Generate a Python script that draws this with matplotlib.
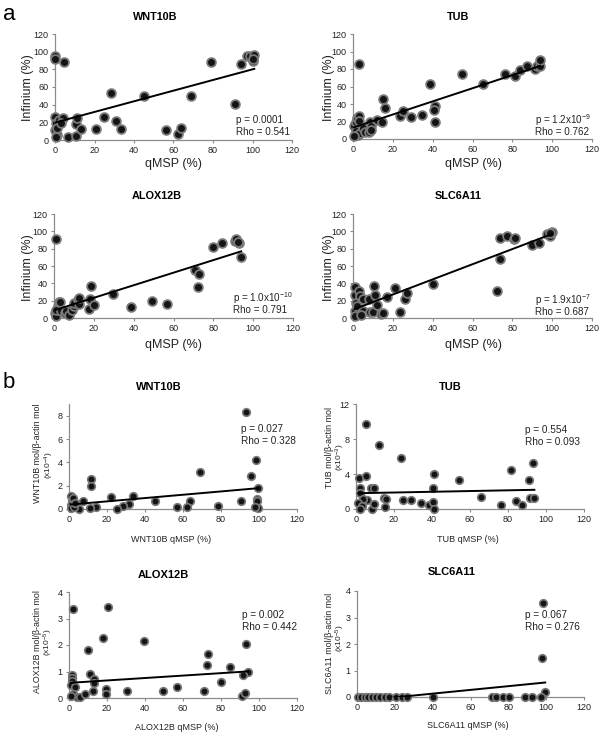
import matplotlib
matplotlib.use("Agg")
import matplotlib.pyplot as plt
import numpy as np

plt.rcParams['font.family'] = ['Liberation Sans', 'DejaVu Sans']
plt.rcParams['mathtext.fontset'] = 'custom'
plt.rcParams['mathtext.rm'] = 'Liberation Sans'
plt.rcParams['mathtext.it'] = 'Liberation Sans:italic'
plt.rcParams['mathtext.bf'] = 'Liberation Sans:bold'

# ---------------- data: panel a (Infinium vs qMSP) ----------------
genes = ["WNT10B", "TUB", "ALOX12B", "SLC6A11"]

a_wnt_x = [0, 0, 4.7, 0.2, 0.3, 0.2, 0.8, 0.3, 0.9, 2.2, 4.2, 3.0, 6.8, 10.6, 10.6, 11.0, 13.2,
           21.0, 24.8, 28.4, 31.0, 33.3, 45.3, 56.0, 62.2, 63.9, 69.0, 79.0, 91.0, 94.0, 97.2,
           98.5, 100.2, 100.9, 100.5]
a_wnt_y = [95, 92, 88, 26.5, 19.7, 11, 5.7, 3, 14, 22.7, 24.6, 19, 3.8, 4.5, 18, 24.6, 12.5,
           12, 26.5, 53.7, 22, 12.5, 50, 11.4, 6.8, 14, 50, 88, 41, 86, 95.4,
           95.4, 90, 96.5, 91.6]

a_tub_x = [0.5, 1.3, 2.0, 3.0, 3.0, 1.7, 2.5, 3.7, 5.0, 6.0, 0.5, 3.0, 7.9, 8.4, 9.2, 8.9,
           12.0, 14.8, 15.1, 15.9, 23.5, 25.2, 29.0, 34.4, 38.6, 41.1, 40.6, 41.1, 54.5, 65.5,
           76.4, 81.4, 84.0, 87.3, 91.5, 92.3, 93.7, 94.0]
a_tub_y = [14.5, 19, 24, 26.5, 21, 8.8, 5, 6.9, 12.6, 7.6, 3, 85.7, 7.6, 20, 15, 10.7,
           22, 20, 46, 36, 26, 31.6, 25, 27.8, 63, 38, 32.8, 19, 74.7, 63,
           74.7, 71.6, 78.5, 83, 80, 83.8, 83.8, 90.7]

a_alox_x = [0.8, 0.7, 1.2, 2.0, 2.5, 2.8, 0.8, 3.7, 5.3, 6.2, 7.4, 9.2, 10.0, 9.9, 12.0, 12.4,
            12.4, 17.4, 18.2, 18.7, 19.9, 29.6, 38.8, 49.4, 56.9, 70.8, 72.6, 72.3, 79.8, 84.4,
            90.7, 91.5, 92.9, 92.2, 94.0]
a_alox_y = [90.9, 5.7, 2.7, 13.4, 18, 19, 8.8, 7.7, 5.7, 7.7, 3, 9.6, 14, 17, 21, 16.5,
            23, 10.7, 22.2, 37.2, 15.3, 28, 12.7, 19.2, 16.5, 55.6, 51, 35.3, 82.4, 86.3,
            89, 90.9, 86.3, 88, 70]

a_slc_x = [0.8, 0.8, 1.7, 0.8, 0.8, 2.0, 3.0, 3.4, 5.0, 5.0, 3.9, 8.0, 8.4, 10.1, 10.4, 10.9,
           12.3, 14.3, 15.1, 17.3, 21.3, 23.8, 26.0, 26.9, 40.3, 72.2, 73.8, 73.8, 77.5, 80.6,
           81.4, 89.8, 93.2, 97.3, 98.7, 99.9, 99.0]
a_slc_y = [35.7, 26.8, 17, 7.7, 1.9, 14, 30.7, 25, 21.9, 7.7, 3.8, 22.2, 6.5, 6.5, 36.4, 26.8,
           15.3, 5, 5.8, 24.2, 34.5, 6.5, 21.9, 28.8, 39.5, 30.7, 68.3, 92.8, 94.7, 90.9,
           92, 84.4, 86.3, 96.6, 95, 98.9, 97.8]

# trend lines (intercept, slope)
a_fit = [(19.7, 0.603), (13.0, 0.75), (8.8, 0.725), (9.6, 0.874)]
a_p = ["p = 0.0001", r"p = 1.2x10$^{\mathregular{-9}}$",
       r"p = 1.0x10$^{\mathregular{-10}}$", r"p = 1.9x10$^{\mathregular{-7}}$"]
a_rho = ["Rho = 0.541", "Rho = 0.762", "Rho = 0.791", "Rho = 0.687"]

# ---------------- data: panel b (expression vs qMSP) ----------------
b_wnt_x = [93.3, 98.6, 96.0, 99.5, 99.1, 98.9, 99.5, 97.8, 90.7, 78.5, 68.8, 63.9, 62.3, 56.6,
           45.5, 33.8, 31.7, 28.6, 25.4, 22.0, 14.2, 11.6, 11.4, 11.0, 7.5, 5.3, 0.9, 1.4, 2.3,
           1.05, 0.9, 2.6, 3.2]
b_wnt_y = [8.34, 4.16, 2.79, 1.79, 0.85, 0.65, 0.09, 0.14, 0.65, 0.23, 3.13, 0.65, 0.14, 0.14,
           0.65, 1.14, 0.46, 0.28, 0.03, 1.0, 0.2, 2.6, 1.94, 0.09, 0.65, 0.03, 1.14, 0.7, 0.94,
           0.37, 0.09, 0.14, 0.5]

b_tub_x = [5.1, 12.3, 23.7, 1.75, 5.3, 2.1, 7.7, 9.6, 2.1, 5.6, 3.5, 1.2, 3.0, 2.1, 8.2, 9.5,
           14.7, 15.8, 15.3, 24.9, 28.9, 34.2, 38.6, 40.7, 41.2, 40.7, 41.0, 54.4, 65.6, 76.3,
           81.4, 84.0, 87.5, 91.2, 91.6, 93.0, 93.9]
b_tub_y = [9.7, 7.35, 5.83, 3.54, 3.73, 2.4, 2.4, 2.4, 1.83, 1.0, 1.14, 0.69, 0.3, 0.04, 0.04, 0.6,
           1.26, 1.2, 0.2, 1.07, 1.07, 0.69, 0.5, 2.4, 4.0, 0.8, 0.04, 3.28, 1.37, 0.5,
           4.5, 0.88, 0.5, 3.28, 1.26, 5.26, 1.26]

b_alox_x = [2.3, 20.3, 18.0, 39.4, 10.2, 73.2, 72.7, 93.3, 84.6, 94.2, 91.6, 80.2, 11.2, 13.1,
            13.1, 1.4, 1.4, 1.4, 1.1, 3.2, 2.3, 4.0, 5.8, 8.4, 12.4, 19.4, 19.4, 30.3, 49.6,
            56.9, 71.3, 91.0, 92.5, 0.9]
b_alox_y = [3.36, 3.43, 2.26, 2.14, 1.82, 1.66, 1.26, 2.04, 1.16, 0.97, 0.87, 0.59, 0.9, 0.72,
            0.57, 0.88, 0.75, 0.63, 0.5, 0.4, 0.16, 0.03, 0.03, 0.16, 0.25, 0.35, 0.16, 0.25, 0.28,
            0.4, 0.28, 0.06, 0.19, 0.06]

b_slc_x = [98.2, 97.9, 99.5, 0.5, 2.3, 4.0, 5.8, 8.1, 9.9, 12.0, 14.6, 17.0, 20.8, 23.6, 26.4,
           40.1, 71.5, 73.6, 77.0, 80.3, 89.0, 92.6, 97.4]
b_slc_y = [3.55, 1.48, 0.2, 0, 0, 0, 0, 0, 0, 0, 0, 0, 0, 0, 0,
           0, 0, 0, 0, 0, 0, 0, 0]

b_fit = [(0.37, 0.0142), (1.8, 0.0042), (0.57, 0.0046), (-0.155, 0.00705)]
b_p = ["p = 0.027", "p = 0.554", "p = 0.002", "p = 0.067"]
b_rho = ["Rho = 0.328", "Rho = 0.093", "Rho = 0.442", "Rho = 0.276"]
b_ylab1 = [g + " mol/β-actin mol" for g in genes]
b_ylab2 = [r"(x10$^{\mathregular{-4}}$)", r"(x10$^{\mathregular{-3}}$)",
           r"(x10$^{\mathregular{-5}}$)", r"(x10$^{\mathregular{-5}}$)"]
b_xlab = [g + " qMSP (%)" for g in genes]
b_yticks = [[0, 2, 4, 6, 8], [0, 4, 8, 12], [0, 1, 2, 3, 4], [0, 1, 2, 3, 4]]
b_ylim = [9, 12, 4, 4]

x_ticks = [0, 20, 40, 60, 80, 100, 120]
a_yticks = [0, 20, 40, 60, 80, 100, 120]

# ---------------- layout (pixels) ----------------
W, H = 600, 733
fig = plt.figure(figsize=(W / 100, H / 100), dpi=100)


def axes_px(x0, x1, ytop, ybot):
    return fig.add_axes([x0 / W, 1 - ybot / H, (x1 - x0) / W, (ybot - ytop) / H])


def ftext(x, y, s, **kw):
    return fig.text(x / W, 1 - y / H, s, **kw)


SPINE = '#8c8c8c'
TXT = '#222222'


def style(ax, fs):
    for s in ['top', 'right']:
        ax.spines[s].set_visible(False)
    for s in ['left', 'bottom']:
        ax.spines[s].set_color(SPINE)
        ax.spines[s].set_linewidth(0.9)
    ax.tick_params(direction='out', length=2.5, width=0.8, color=SPINE,
                   labelsize=fs, labelcolor=TXT, pad=2)


a_data = [(a_wnt_x, a_wnt_y), (a_tub_x, a_tub_y), (a_alox_x, a_alox_y), (a_slc_x, a_slc_y)]
b_data = [(b_wnt_x, b_wnt_y), (b_tub_x, b_tub_y), (b_alox_x, b_alox_y), (b_slc_x, b_slc_y)]

a_boxes = [(55, 292, 34, 140), (353, 592, 34, 139), (54, 293, 214, 318), (353, 592, 214, 318)]
a_titles = [(155, 17), (458, 17), (157, 196), (458, 196)]
a_xlab = [(173, 164), (473, 164), (173, 345), (473, 345)]
a_ylab = [(28, 88), (329, 88), (28, 268), (329, 268)]
a_ann = [(236, 120), (535, 120), (233, 298), (535, 300)]

b_boxes = [(69, 297, 404, 509), (356, 584, 404, 509), (69, 297, 592, 698), (357, 584, 591, 697)]
b_titles = [(159, 387), (450, 387), (163, 575), (452, 572)]
b_xlabpos = [(171, 540), (468, 540), (177, 728), (468, 725)]
b_ylab1pos = [(37, 453), (329, 448), (37, 642), (329, 643)]
b_ylab2pos = [(49, 465), (340, 457), (48, 642), (340, 638)]
b_ann = [(241, 429), (525, 430), (242, 615), (525, 615)]

MFACE = '#141414'
MEDGE = '#7a7a7a'

for i in range(4):
    ax = axes_px(*a_boxes[i])
    x, y = a_data[i]
    ax.scatter(x, y, s=40, facecolor=MFACE, edgecolor=MEDGE, linewidths=1.3,
               zorder=3, clip_on=False)
    b0, b1 = a_fit[i]
    xs = np.array([min(x), max(x)])
    ax.plot(xs, b0 + b1 * xs, color='black', lw=1.4, zorder=4)
    ax.set_xlim(0, 120)
    ax.set_ylim(0, 120)
    ax.set_xticks(x_ticks)
    ax.set_yticks(a_yticks)
    style(ax, 6.5)
    ftext(*a_titles[i], genes[i], ha='center', va='center', fontsize=7.8,
          fontweight='bold', color='black')
    ftext(*a_xlab[i], "qMSP (%)", ha='center', va='center', fontsize=9, color=TXT)
    ftext(*a_ylab[i], "Infinium (%)", ha='center', va='center', fontsize=9,
          color=TXT, rotation=90)
    ax0 = a_ann[i]
    ftext(ax0[0], ax0[1], a_p[i], ha='left', va='center', fontsize=7.1, color=TXT)
    ftext(ax0[0], ax0[1] + 12, a_rho[i], ha='left', va='center', fontsize=7.1, color=TXT)

for i in range(4):
    ax = axes_px(*b_boxes[i])
    x, y = b_data[i]
    ax.scatter(x, y, s=30, facecolor=MFACE, edgecolor=MEDGE, linewidths=1.2,
               zorder=3, clip_on=False)
    b0, b1 = b_fit[i]
    xs = np.array([min(x), max(x)])
    ax.plot(xs, b0 + b1 * xs, color='black', lw=1.4, zorder=4)
    ax.set_xlim(0, 120)
    ax.set_ylim(0, b_ylim[i])
    ax.set_xticks(x_ticks)
    ax.set_yticks(b_yticks[i])
    style(ax, 6.5)
    ftext(*b_titles[i], genes[i], ha='center', va='center', fontsize=8,
          fontweight='bold', color='black')
    ftext(*b_xlabpos[i], b_xlab[i], ha='center', va='center', fontsize=6.5,
          color=TXT)
    ftext(*b_ylab1pos[i], b_ylab1[i], ha='center', va='center', fontsize=6.4,
          color=TXT, rotation=90)
    ftext(*b_ylab2pos[i], b_ylab2[i], ha='center', va='center', fontsize=6.0,
          color=TXT, rotation=90)
    ax0 = b_ann[i]
    ftext(ax0[0], ax0[1], b_p[i], ha='left', va='center', fontsize=7.2, color=TXT)
    ftext(ax0[0], ax0[1] + 12, b_rho[i], ha='left', va='center', fontsize=7.2, color=TXT)

ftext(3, 14, "a", ha='left', va='center', fontsize=16, color='black')
ftext(3, 382, "b", ha='left', va='center', fontsize=16, color='black')

fig.savefig("out.png", dpi=100, facecolor='white')
